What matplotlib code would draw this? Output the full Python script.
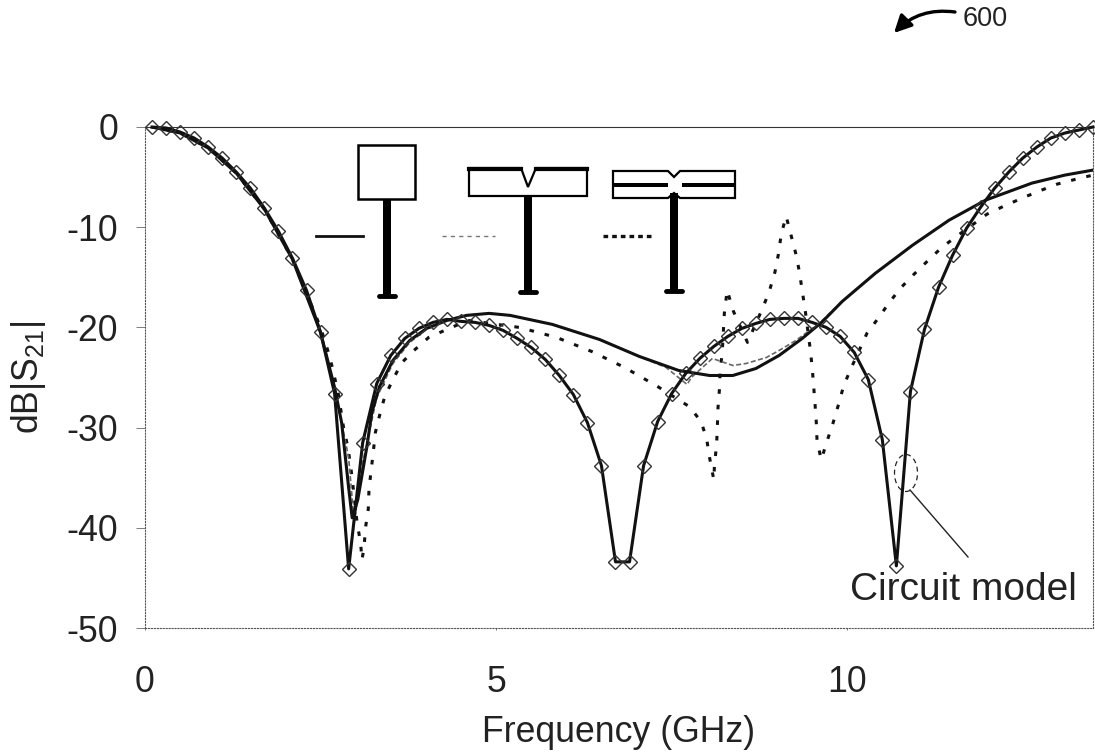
import matplotlib
matplotlib.use("Agg")
import matplotlib.pyplot as plt
from matplotlib.patches import Ellipse, Polygon, Rectangle, FancyArrowPatch

plt.rcParams['font.family'] = ['Liberation Sans', 'DejaVu Sans']
plt.rcParams['mathtext.fontset'] = 'custom'
plt.rcParams['mathtext.rm'] = 'Liberation Sans'
plt.rcParams['axes.unicode_minus'] = False

# Circuit model curve (diamond markers)
model_freq = [0.1, 0.3, 0.5, 0.7, 0.9, 1.1, 1.3, 1.5, 1.7, 1.9, 2.1, 2.3, 2.5, 2.7, 2.9, 3.1, 3.3,
              3.5, 3.7, 3.9, 4.1, 4.3, 4.5, 4.7, 4.9, 5.1, 5.3, 5.5, 5.7, 5.9, 6.1, 6.3, 6.5, 6.7,
              6.9, 7.1, 7.3, 7.5, 7.7, 7.9, 8.1, 8.3, 8.5, 8.7, 8.9, 9.1, 9.3, 9.5, 9.7, 9.9, 10.1,
              10.3, 10.5, 10.7, 10.9, 11.1, 11.3, 11.5, 11.7, 11.9, 12.1, 12.3, 12.5, 12.7, 12.9,
              13.1, 13.3, 13.5]
model_db = [0.0, -0.1, -0.5, -1.1, -2.0, -3.1, -4.5, -6.1, -8.1, -10.4, -13.1, -16.3, -20.5, -26.6,
            -44.1, -31.5, -25.6, -22.8, -21.1, -20.1, -19.5, -19.2, -19.4, -19.5, -19.8, -20.3,
            -21.1, -22.0, -23.2, -24.8, -26.7, -29.5, -33.8, -43.4, -43.4, -33.8, -29.4, -26.6,
            -24.6, -23.1, -21.9, -20.9, -20.1, -19.6, -19.2, -19.1, -19.1, -19.5, -20.0, -20.9,
            -22.5, -25.2, -31.2, -43.8, -26.4, -20.2, -16.0, -12.8, -10.1, -8.0, -6.1, -4.5, -3.1,
            -2.0, -1.1, -0.6, -0.3, 0.0]

# Solid curve (square patch)
solid_freq = [0.1, 0.5, 0.9, 1.3, 1.7, 2.1, 2.5, 2.7, 2.8, 2.9, 2.95, 3.03, 3.16, 3.23, 3.34, 3.53,
              3.77, 4.01, 4.3, 4.58, 4.9, 5.2, 5.8, 6.47, 7.04, 7.6, 8.04, 8.37, 8.7, 9.03, 9.36,
              9.65, 9.93, 10.4, 10.93, 11.45, 11.97, 12.63, 13.1, 13.5]
solid_db = [0.0, -0.6, -2.1, -4.6, -8.2, -13.2, -20.5, -26.0, -29.5, -36.0, -39.0, -37.2, -31.9,
            -28.5, -25.9, -23.3, -21.3, -20.1, -19.3, -18.8, -18.6, -18.8, -19.7, -21.2, -22.9,
            -24.3, -24.8, -24.8, -24.1, -22.8, -21.1, -19.4, -17.4, -14.6, -11.8, -9.3, -7.3,
            -5.6, -4.8, -4.3]

# Light dashed curve (notched patch), mostly hidden under the solid one
gray_freq = [2.7, 2.9, 2.98, 3.1, 3.3, 3.53, 3.77, 4.01, 4.3, 4.58, 4.9, 5.2, 5.8, 6.47, 7.04, 7.42,
             7.65, 7.72, 7.78, 8.08, 8.37, 8.56, 8.85, 9.03, 9.27, 9.6, 9.93, 10.4, 10.93, 11.45,
             11.97, 12.63, 13.1, 13.5]
gray_db = [-26.0, -33.0, -39.5, -33.5, -27.0, -23.6, -21.5, -20.2, -19.3, -18.8, -18.6, -18.8,
           -19.7, -21.2, -22.9, -24.0, -25.3, -25.7, -25.0, -23.1, -23.8, -23.6, -23.0, -22.3,
           -21.3, -19.6, -17.4, -14.6, -11.8, -9.3, -7.3, -5.6, -4.8, -4.3]

# Dashed curve (slotted patch)
dash_freq = [0.1, 0.5, 0.9, 1.3, 1.7, 2.1, 2.5, 2.63, 2.75, 2.83, 2.89, 2.93, 2.96, 3.02, 3.07, 3.09,
             3.12, 3.14, 3.18, 3.19, 3.22, 3.25, 3.28, 3.34, 3.41, 3.53, 3.66, 3.83, 4.04, 4.3,
             4.6, 5.33, 5.86, 6.36, 6.83, 7.3, 7.75, 7.92, 8.0, 8.04, 8.1, 8.11, 8.14, 8.15, 8.16,
             8.18, 8.19, 8.22, 8.25, 8.29, 8.38, 8.58, 8.8, 8.89, 8.97, 9.02, 9.06, 9.13, 9.2, 9.27,
             9.32, 9.36, 9.4, 9.47, 9.5, 9.52, 9.54, 9.56, 9.57, 9.63, 9.72, 9.8, 9.88, 9.95, 10.06,
             10.28, 10.44, 10.6, 10.77, 10.95, 11.14, 11.35, 11.56, 11.99, 12.23, 12.49, 12.73,
             12.99, 13.26, 13.5]
dash_db = [0.0, -0.6, -2.1, -4.6, -8.2, -13.2, -20.0, -22.9, -26.5, -30.1, -32.0, -33.9, -35.7,
           -39.5, -41.5, -43.2, -41.9, -40.0, -38.1, -36.1, -34.3, -32.5, -30.5, -28.8, -27.0,
           -25.2, -23.5, -22.3, -21.0, -20.2, -19.3, -20.0, -21.0, -22.4, -24.0, -25.9, -27.9,
           -29.4, -31.2, -33.0, -35.2, -33.7, -31.7, -30.0, -28.0, -26.2, -24.4, -22.5, -18.6,
           -16.3, -18.4, -21.5, -18.0, -16.4, -14.5, -12.7, -10.7, -8.9, -10.8, -12.7, -14.5,
           -16.4, -18.2, -22.0, -23.9, -25.7, -27.5, -29.5, -31.3, -33.2, -31.2, -29.5, -27.6,
           -25.8, -24.0, -20.6, -19.1, -17.5, -16.0, -14.7, -13.4, -12.0, -10.9, -8.7, -7.9,
           -7.1, -6.4, -5.7, -5.2, -4.8]

x_ticks = [0, 5, 10]
y_ticks = [0, -10, -20, -30, -40, -50]

fig = plt.figure(figsize=(10.95, 7.55), dpi=100)
ax = fig.add_axes([145 / 1095, 1 - 628 / 755, (1093 - 145) / 1095, (628 - 127) / 755])

ax.plot(dash_freq, dash_db, color='#111111', lw=2.2, ls=(0, (1.5, 3.6)), zorder=2)
ax.plot(gray_freq, gray_db, color='#666666', lw=1.2, ls=(0, (3, 1.5)), zorder=2)
ax.plot(solid_freq, solid_db, color='#111111', lw=2.2, zorder=3)
ax.plot(model_freq, model_db, color='#111111', lw=2.2, marker='D', ms=7, mfc='none', mec='#333333',
        mew=1.0, zorder=4, clip_on=False)

ax.set_xlim(0, 13.5)
ax.set_ylim(-50, 0)
ax.set_xticks(x_ticks)
ax.set_yticks(y_ticks)
ax.tick_params(axis='both', width=0.6, color='#666666', labelsize=25.7, labelcolor='#222222')
ax.tick_params(axis='x', length=1.5, pad=25)
ax.tick_params(axis='y', length=6.5, pad=13)
ax.set_xlabel('Frequency (GHz)', fontsize=25.7, color='#222222', labelpad=11)
ax.set_ylabel('dB|S$_{21}$|', fontsize=25.7, color='#222222', labelpad=13)
for side in ax.spines:
    ax.spines[side].set_linewidth(0.8)
    ax.spines[side].set_linestyle(':')
    ax.spines[side].set_color('#555555')
ax.spines['top'].set_linestyle('-')
ax.spines['top'].set_color('#333333')

# Overlay in pixel coordinates for the patch drawings and the notes
over = fig.add_axes([0, 0, 1, 1], facecolor='none')
over.set_xlim(0, 1095)
over.set_ylim(755, 0)
over.axis('off')


def draw_stem(x0, x1, top, bottom):
    over.add_patch(Rectangle((x0, top), x1 - x0, bottom - top, fc='black', ec='none'))
    mid = (x0 + x1) / 2
    over.plot([mid - 8, mid + 8], [bottom + 1, bottom + 1], color='black', lw=3.5, solid_capstyle='round')


# Square patch
over.add_patch(Rectangle((358, 145), 57, 54, fc='white', ec='black', lw=1.8))
draw_stem(383, 391, 199, 295)
over.plot([316, 363], [236, 236], color='#111111', lw=2)

# Notched patch
over.add_patch(Polygon([(469, 168), (521, 168), (528, 187), (536, 168), (587, 168), (587, 196), (469, 196)],
                       closed=True, fc='white', ec='black', lw=1.6))
over.plot([469, 521], [169, 169], color='black', lw=3)
over.plot([536, 587], [169, 169], color='black', lw=3)
draw_stem(524, 532, 196, 291)
over.plot([442, 495], [236, 236], color='#777777', lw=1, ls=(0, (3, 3)))

# Slotted patch
over.add_patch(Polygon([(613, 171), (668, 171), (674, 177), (680, 171), (735, 171), (735, 198), (680, 198),
                        (674, 193), (668, 198), (613, 198)], closed=True, fc='white', ec='black', lw=1.6))
over.add_patch(Rectangle((613, 183), 55, 4, fc='black', ec='none'))
over.add_patch(Rectangle((682, 183), 53, 4, fc='black', ec='none'))
over.add_patch(Rectangle((614, 184.6), 52, 0.8, fc='white', ec='none'))
over.add_patch(Rectangle((684, 184.6), 50, 0.8, fc='white', ec='none'))
draw_stem(670, 678, 193, 290)
over.plot([603, 653], [236, 236], color='#111111', lw=2.4, ls=(0, (1.4, 1.2)))

# Circuit model note
over.add_patch(Ellipse((906, 473), 23, 37, fc='none', ec='#222222', lw=0.9, ls=(0, (4, 3))))
over.plot([910, 968], [490, 557], color='#222222', lw=1)
over.text(963.5, 590, 'Circuit model', fontsize=28, color='#222222', ha='center', va='center')

# Reference numeral
over.add_patch(FancyArrowPatch((955, 12), (894, 33), connectionstyle='arc3,rad=0.25', arrowstyle='-|>',
                               mutation_scale=26, lw=2.4, color='black', shrinkA=0, shrinkB=0))
over.text(963, 18.5, '600', fontsize=19.5, color='#222222', ha='left', va='center')

fig.savefig('out.png', dpi=100)
